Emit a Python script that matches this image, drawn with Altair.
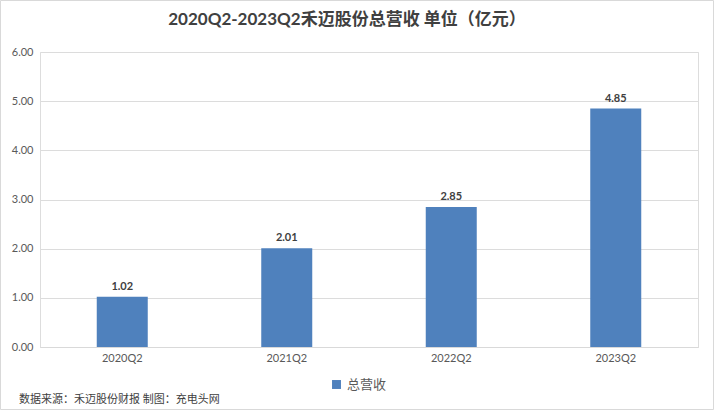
import altair as alt
import pandas as pd

quarters = ["2020Q2", "2021Q2", "2022Q2", "2023Q2"]
revenue = [1.02, 2.01, 2.85, 4.85]
series_name = "总营收"
title_text = "2020Q2-2023Q2禾迈股份总营收 单位（亿元）"
source_text = "数据来源：禾迈股份财报 制图：充电头网"
y_ticks = [0, 1, 2, 3, 4, 5, 6]

df = pd.DataFrame({"quarter": quarters, "revenue": revenue, "series": [series_name] * len(quarters)})

FONT = "Lato, Noto Sans CJK SC, sans-serif"
W, H = 658, 295

base = alt.Chart(df)

bars = base.mark_bar(size=51).encode(
    x=alt.X("quarter:N", sort=quarters, title=None,
            axis=alt.Axis(labelAngle=0, ticks=False, domainColor="#d9d9d9", labelColor="#595959",
                          labelFontSize=11, labelPadding=5, labelFont=FONT)),
    y=alt.Y("revenue:Q", title=None, scale=alt.Scale(domain=[0, 6], nice=False),
            axis=alt.Axis(values=y_ticks, format=".2f", domain=False, ticks=False,
                          gridColor="#dcdcdc", labelColor="#595959", labelFontSize=11,
                          labelPadding=7, labelFont=FONT)),
    color=alt.Color("series:N", scale=alt.Scale(range=["#4F81BD"]), title=None,
                    legend=alt.Legend(orient="none", legendX=290, legendY=326, symbolType="square",
                                      symbolSize=80, labelFontSize=13, labelColor="#595959",
                                      labelFont=FONT, symbolStrokeWidth=0)),
)

labels = base.mark_text(dy=-10, fontSize=11, fontWeight="bold", color="#404040", font=FONT).encode(
    x=alt.X("quarter:N", sort=quarters),
    y=alt.Y("revenue:Q"),
    text=alt.Text("revenue:Q", format=".2f"),
)

title = alt.Chart(pd.DataFrame({"t": [title_text]})).mark_text(
    align="center", baseline="middle", fontSize=17, fontWeight="bold", color="#404040", font=FONT
).encode(x=alt.value(W / 2 - 22), y=alt.value(-32), text="t:N")

source = alt.Chart(pd.DataFrame({"t": [source_text]})).mark_text(
    align="left", baseline="middle", fontSize=11, color="#404040", font=FONT
).encode(x=alt.value(-21), y=alt.value(H + 53), text="t:N")

border = alt.Chart(pd.DataFrame({"a": [0]})).mark_rect(
    fill=None, stroke="#d9d9d9", strokeWidth=1
).encode(x=alt.value(-39.5), x2=alt.value(W + 15.5), y=alt.value(-51.5), y2=alt.value(H + 62.5))

chart = alt.layer(border, bars, labels, title, source).properties(
    width=W, height=H,
    autosize=alt.AutoSizeParams(type="none"),
    padding={"left": 40, "top": 52, "right": 16, "bottom": 63},
).configure_view(stroke=None).configure(background="white")

chart.save("out.html", embed_options={"renderer": "svg", "actions": False})
